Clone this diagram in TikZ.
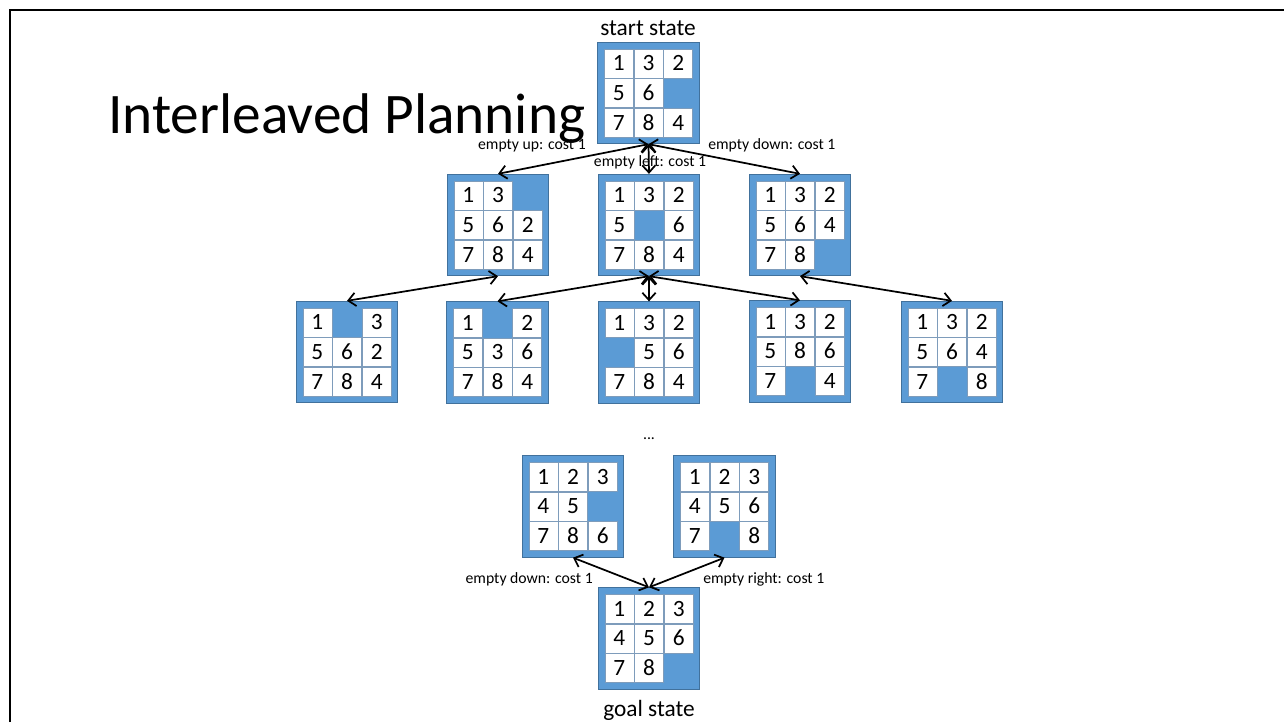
\documentclass[tikz,border=0pt]{standalone}
\usepackage{fontspec}
\setmainfont{Carlito}
\usepackage{xcolor}
\usetikzlibrary{matrix}
\usetikzlibrary{arrows.meta}

\definecolor{tileblue}{HTML}{5B9BD5}
\definecolor{tileedge}{HTML}{41719C}
\definecolor{tileline}{HTML}{7E9CBB}

\begin{document}
\begin{tikzpicture}[x=0.75pt, y=-0.75pt,
    board/.style={matrix of nodes, draw=tileedge, fill=tileblue, line width=0.8pt,
      inner sep=4.6pt, column sep=0pt, row sep=0pt,
      nodes={draw=tileline, fill=white, line width=0.5pt, minimum size=21.75pt,
        inner sep=0pt, text height=11pt, text depth=0pt,
        font=\fontsize{17.5}{20}\selectfont}},
    move/.style={<->, line width=1.3pt, >={Straight Barb[length=5.5pt,width=10pt]}},
    cost/.style={inner sep=0pt, font=\fontsize{11.8}{14}\selectfont}]
  \useasboundingbox (0,0) rectangle (1284,722);
  \draw[line width=1.6pt] (10,722) -- (10,10) -- (1284,10);

  \node[anchor=base west, inner sep=0pt, font=\fontsize{43}{46}\selectfont] (title) at (108,133) {Interleaved Planning};

  % start state and its three successors
  \matrix (s) [board] at (648.5,93) {
    1 & 3 & 2 \\
    5 & 6 &   \\
    7 & 8 & 4 \\};
  \node[anchor=base, inner sep=0pt, font=\fontsize{17.5}{20}\selectfont] (startlbl) at (648,35) {start state};

  \matrix (a1) [board] at (498,225) {
    1 & 3 &   \\
    5 & 6 & 2 \\
    7 & 8 & 4 \\};
  \matrix (a2) [board] at (649,225) {
    1 & 3 & 2 \\
    5 &   & 6 \\
    7 & 8 & 4 \\};
  \matrix (a3) [board] at (800,225) {
    1 & 3 & 2 \\
    5 & 6 & 4 \\
    7 & 8 &   \\};

  % next level
  \matrix (b1) [board] at (347,352) {
    1 &   & 3 \\
    5 & 6 & 2 \\
    7 & 8 & 4 \\};
  \matrix (b2) [board] at (497.5,352.5) {
    1 &   & 2 \\
    5 & 3 & 6 \\
    7 & 8 & 4 \\};
  \matrix (b3) [board] at (649,352.5) {
    1 & 3 & 2 \\
      & 5 & 6 \\
    7 & 8 & 4 \\};
  \matrix (b4) [board] at (800,351.5) {
    1 & 3 & 2 \\
    5 & 8 & 6 \\
    7 &   & 4 \\};
  \matrix (b5) [board] at (952,352) {
    1 & 3 & 2 \\
    5 & 6 & 4 \\
    7 &   & 8 \\};

  \node[cost, anchor=base] (dots) at (649,439) {...};

  % last two steps and the goal
  \matrix (c1) [board] at (573,506.5) {
    1 & 2 & 3 \\
    4 & 5 &   \\
    7 & 8 & 6 \\};
  \matrix (c2) [board] at (724.5,506.5) {
    1 & 2 & 3 \\
    4 & 5 & 6 \\
    7 &   & 8 \\};
  \matrix (g) [board] at (649,638.5) {
    1 & 2 & 3 \\
    4 & 5 & 6 \\
    7 & 8 &   \\};
  \node[anchor=base, inner sep=0pt, font=\fontsize{17.5}{20}\selectfont] (goallbl) at (649,716) {goal state};

  \path[move] (s.south) edge (a1.north);
  \path[move] (s.south) edge (a2.north);
  \path[move] (s.south) edge (a3.north);
  \path[move] (a1.south) edge (b1.north);
  \path[move] (a2.south) edge (b2.north);
  \path[move] (a2.south) edge (b3.north);
  \path[move] (a2.south) edge (b4.north);
  \path[move] (a3.south) edge (b5.north);
  \path[move] (c1.south) edge (g.north);
  \path[move] (c2.south) edge (g.north);

  \node[cost, anchor=base east] (upcost) at (586,149) {empty up: cost 1};
  \node[cost, anchor=base] (leftcost) at (650,166) {empty left: cost 1};
  \node[cost, anchor=base west] (downcost) at (708,149) {empty down: cost 1};
  \node[cost, anchor=base east] (downcost2) at (593,583) {empty down: cost 1};
  \node[cost, anchor=base west] (rightcost) at (703,583) {empty right: cost 1};
\end{tikzpicture}
\end{document}
